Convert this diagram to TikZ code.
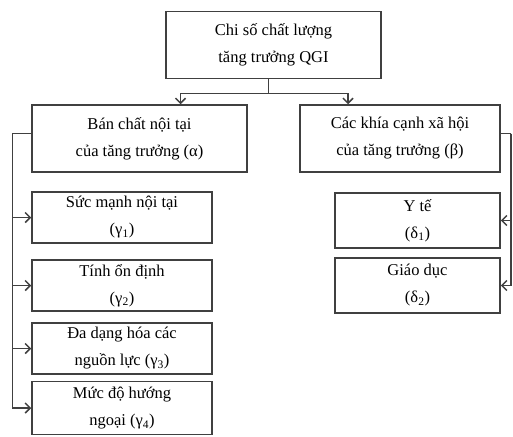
\documentclass[tikz,border=0pt]{standalone}
\usepackage{fontspec}
\setmainfont{Liberation Serif}
\usetikzlibrary{positioning,arrows.meta,calc}

\begin{document}
\begin{tikzpicture}[
        x=1pt,y=-1pt,
        block/.style={rectangle,draw=black!75,line width=1.5pt,align=center,inner sep=2pt,
          font=\fontsize{16.5}{27}\selectfont},
        wide/.style={block,minimum width=215pt,minimum height=67pt},
        item/.style={block,minimum width=180pt},
        side/.style={block,minimum width=165pt,minimum height=55pt},
        arrow/.style={-{Straight Barb[length=5pt,width=10pt]},line width=1.5pt,black!75},
        link/.style={line width=1.5pt,black!75},
      ]
      \useasboundingbox (0,0) rectangle (513,436);
      \node[wide] (q) at (273.5,45) {Chi số chất lượng\\tăng trưởng QGI};
      \node[wide] (a) at (139.5,138.5) {Bán chất nội tại\\của tăng trưởng (α)};
      \node[wide,minimum width=200pt] (b) at (400,138.5) {Các khía cạnh xã hội\\của tăng trưởng (β)};
      \node[item,minimum height=51pt] (g1) at (122,217.5) {Sức mạnh nội tại\\(γ\textsubscript{1})};
      \node[item,minimum height=51pt] (g2) at (122,285.5) {Tính ổn định\\(γ\textsubscript{2})};
      \node[item,minimum height=51pt] (g3) at (122,348.5) {Đa dạng hóa các\\nguồn lực (γ\textsubscript{3})};
      \node[item,minimum height=53pt] (g4) at (122,408) {Mức độ hướng\\ngoại (γ\textsubscript{4})};
      \node[side] (d1) at (417.5,220.5) {Y tế\\(δ\textsubscript{1})};
      \node[side] (d2) at (417.5,285.5) {Giáo dục\\(δ\textsubscript{2})};

      % top split
      \draw[link] ([xshift=-5pt]q.south) -- ++(0,14) coordinate (split);
      \draw[arrow] (split) -| ([xshift=41pt]a.north);
      \draw[arrow] (split) -| ([xshift=-52pt]b.north);

      % left bus
      \draw[link] ([yshift=5pt]a.west) -- ++(-19,0) coordinate (lbus);
      \foreach \n in {g1,g2,g3,g4}
        \draw[arrow] (lbus) |- (\n.west);

      % right bus
      \draw[link] ([yshift=5pt]b.east) -- ++(10,0) coordinate (rbus);
      \foreach \n in {d1,d2}
        \draw[arrow] (rbus) |- (\n.east);
    \end{tikzpicture}
\end{document}
